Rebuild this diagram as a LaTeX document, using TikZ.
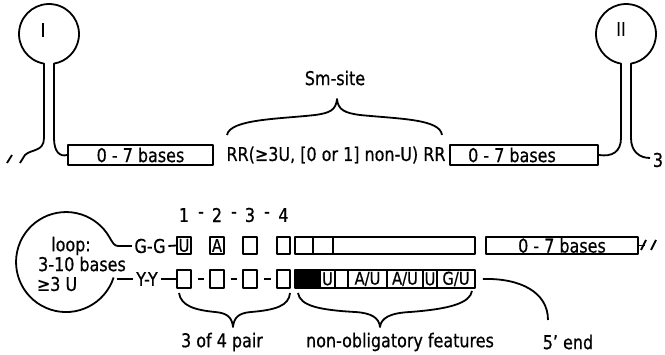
\documentclass[tikz,border=0pt]{standalone}
\usepackage{fontspec}
\setmainfont{DejaVu Sans}[FakeStretch=0.84,FakeBold=0.6]
\begin{document}
\begin{tikzpicture}[x=1pt,y=-1pt,line width=1.8pt,line join=round,
  lbl/.style={font=\fontsize{19}{21}\selectfont,inner sep=0pt},
  small/.style={font=\fontsize{17.5}{18}\selectfont,inner sep=0pt},
  cell/.style={draw,rectangle,inner sep=0pt,minimum height=17pt},
  lcell/.style={draw,rectangle,inner sep=0pt,minimum height=18pt}]
\useasboundingbox (0,0) rectangle (665,355);
% ---------- top part ----------
\node[cell,lbl,minimum width=145pt,minimum height=20pt] (b1) at (140.5,155) {0 - 7 bases};
\node[cell,minimum width=148pt,minimum height=20pt] (b2) at (524,155) {};
\node[lbl] (b2t) at (512,155) {0 - 7 bases};
\node[lbl] (rr) at (336,155) {RR(≥3U, [0 or 1] non-U) RR};
\node[lbl] (sm) at (335,78) {Sm-site};
\node[lbl] (one) at (43,30) {I};
\node[lbl] (two) at (621,29) {II};
\node[lbl] (three) at (658,160) {3};
\coordinate (endL) at (20,163);
\coordinate (endR) at (650,158);
% hairpin I
\draw (endL) -- (25,155) .. controls (31,149) and (44,152) .. (44,138) -- (44,63.6)
  arc[start angle=99.6,end angle=440.4,radius=30] -- (54,138)
  .. controls (54,152) and (60,157) .. (b1.west);
\draw (7,163) -- (12,155);
% hairpin II
\draw (b2.east) .. controls (612,157) and (621,152) .. (621,138) -- (621,63.6)
  arc[start angle=99.6,end angle=440.4,radius=30] -- (631,138)
  .. controls (631,152) and (640,158) .. (endR);
% Sm-site brace
\draw (227,135) .. controls (230,119) and (280,119) .. (315,115)
  .. controls (330,113) and (336,110) .. (337,99)
  .. controls (338,110) and (345,113) .. (360,115)
  .. controls (400,119) and (440,119) .. (442,135);
% ---------- bottom part ----------
% loop
\node[lbl] (lp1) at (71,246) {loop:};
\node[lbl] (lp2) at (82,264) {3-10 bases};
\node[lbl,anchor=west] (lp3) at (36,284) {≥3 U};
\coordinate (gjoin) at (118,246);
\draw (113.6,277.5) arc[start angle=18,end angle=330,radius=50]
  .. controls (112.3,242) and (114,246) .. (gjoin);
% numbers
\node[lbl] (n1) at (184,215) {1};
\node[lbl] (d1) at (201,215) {-};
\node[lbl] (n2) at (217,215) {2};
\node[lbl] (d2) at (234,215) {-};
\node[lbl] (n3) at (250,215) {3};
\node[lbl] (d3) at (267,215) {-};
\node[lbl] (n4) at (283.5,215) {4};
% top strand
\node[lbl] (gg) at (150,246) {G-G};
\node[cell,small,minimum width=14pt] (u1) at (184,245.5) {U};
\node[cell,small,minimum width=14pt] (a1) at (217,245.5) {A};
\node[cell,minimum width=14pt] (t3) at (250,245.5) {};
\node[cell,minimum width=13pt] (t4) at (283.5,245.5) {};
\node[cell,minimum width=18pt] (s1) at (304,245.5) {};
\node[cell,minimum width=20pt] (s2) at (323,245.5) {};
\node[cell,minimum width=142pt] (s3) at (404,245.5) {};
\node[cell,lbl,minimum width=152pt] (b3) at (562,245.5) {0 - 7 bases};
\draw (gjoin) -- ([xshift=-2pt]gg.west);
\draw ([xshift=2pt]gg.east) -- (u1.west);
\draw (b3.east) -- ++(6,0);
\draw (641,250) -- (646,240);
\draw (651,250) -- (656,240);
% bottom strand
\coordinate (yjoin) at (117,279);
\node[lbl] (yy) at (147,279) {Y-Y};
\node[lcell,minimum width=14pt] (l1) at (184,279) {};
\node[lcell,minimum width=14pt] (l2) at (217,279) {};
\node[lcell,minimum width=14pt] (l3) at (250,279) {};
\node[lcell,minimum width=13pt] (l4) at (283.5,279) {};
\node[lcell,fill=black,minimum width=25pt] (k1) at (307.5,279) {};
\node[lcell,small,minimum width=15pt] (k2) at (327.5,279) {U};
\node[lcell,minimum width=13pt] (k3) at (341.5,279) {};
\node[lcell,small,minimum width=39pt] (k4) at (367.5,279) {A/U};
\node[lcell,small,minimum width=36pt] (k5) at (405,279) {A/U};
\node[lcell,small,minimum width=14pt] (k6) at (430,279) {U};
\node[lcell,small,minimum width=38pt] (k7) at (456,279) {G/U};
\draw (yjoin) -- ([xshift=-2pt]yy.west);
\draw ([xshift=2pt]yy.east) -- (l1.west);
\draw ([xshift=6pt]l1.east) -- ([xshift=-5pt]l2.west);
\draw ([xshift=6pt]l2.east) -- ([xshift=-5pt]l3.west);
\draw ([xshift=6pt]l3.east) -- ([xshift=-5pt]l4.west);
% braces
\draw (179,293) .. controls (181,306) and (195,310) .. (215,312)
  .. controls (228,313) and (232,318) .. (233,327)
  .. controls (234,318) and (238,313) .. (251,312)
  .. controls (275,310) and (289,306) .. (290,293);
\draw (298,293) .. controls (300,306) and (320,310) .. (355,312)
  .. controls (372,313) and (379,318) .. (380,327)
  .. controls (381,318) and (390,313) .. (410,312)
  .. controls (450,309) and (470,303) .. (472,291);
% 5' end
\coordinate (fe) at (548,320);
\draw ([xshift=7pt]k7.east) .. controls (520,278) and (548,292) .. (fe);
% labels
\node[lbl] (p34) at (222,342) {3 of 4 pair};
\node[lbl] (nof) at (400,342) {non-obligatory features};
\node[lbl] (five) at (568,342) {5' end};
\end{tikzpicture}
\end{document}
